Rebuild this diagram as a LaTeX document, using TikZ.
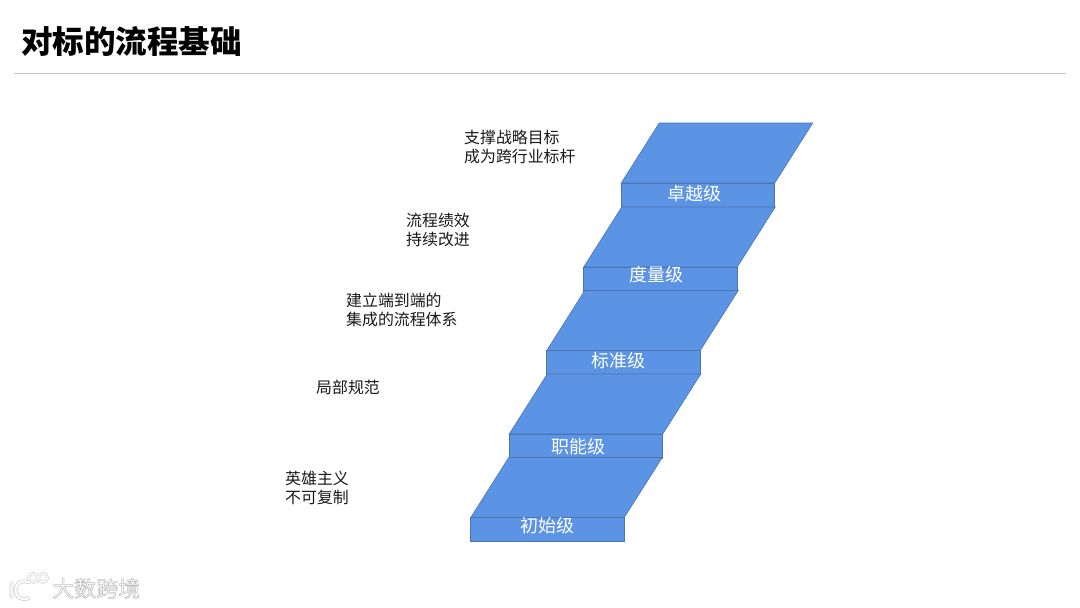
\documentclass[tikz,border=0pt]{standalone}
\usepackage{fontspec}
\setmainfont{Noto Sans CJK SC}
\usepackage{xcolor}
\usetikzlibrary{calc,positioning}
\definecolor{stepc}{HTML}{5B93E5}
\definecolor{edgec}{HTML}{4A76AE}
\definecolor{rulec}{HTML}{C4C4C4}
\definecolor{glowc}{HTML}{D6D6D6}
\newcommand{\glowtext}[1]{{\color{white}\special{pdf:code q 2 Tr 0.6 w 0.75 0.75 0.75 RG}#1\special{pdf:code Q}}}
\tikzset{
  stepbox/.style={draw=edgec,fill=stepc,line width=0.8pt,minimum width=153.5pt,minimum height=24pt,inner sep=0pt,outer sep=0pt},
  stepface/.style={draw=edgec,fill=stepc,line width=0.6pt,line join=miter},
  steptext/.style={text=white,font=\fontsize{18}{20}\selectfont,inner sep=0pt},
  note/.style={align=left,anchor=north west,font=\fontsize{15.9}{19}\selectfont,inner sep=0pt,text=black!90}
}
\begin{document}
\begin{tikzpicture}[x=1pt,y=-1pt]
\useasboundingbox (0,0) rectangle (1080,608);
\fill[white] (0,0) rectangle (1080,608);
\node[anchor=west,inner sep=0pt,font=\fontsize{31.5}{36}\selectfont\bfseries] (title) at (21,41) {对标的流程基础};
\coordinate (ruleL) at (14,73);
\coordinate (ruleR) at (1066,73);
\draw[rulec,line width=0.8pt] (ruleL)--(ruleR);
% steps, top one first
\foreach \nm/\bx/\by/\tx/\ty/\lab in {
  top/698/195/694/194/卓越级,
  mea/660.5/279/656/275/度量级,
  std/623.5/362.5/618/361/标准级,
  fun/586/446/578/447/职能级,
  ini/547.5/529.5/547/526/初始级}{
  \node[stepbox] (\nm) at (\bx,\by) {};
  \draw[stepface] (\nm.north west)--++(38,-60)--++(153.5,0)--(\nm.north east)--cycle;
  \node[steptext] (\nm txt) at (\tx,\ty) {\lab};
}
\node[note] (n1) at (464,130) {支撑战略目标\\成为跨行业标杆};
\node[note] (n2) at (406,213) {流程绩效\\持续改进};
\node[note] (n3) at (346,293) {建立端到端的\\集成的流程体系};
\node[note] (n4) at (316,380) {局部规范};
\node[note] (n5) at (285,471) {英雄主义\\不可复制};
% watermark
\node[inner sep=0pt,anchor=west,font=\fontsize{22}{24}\selectfont] (mark) at (52,588.5) {\glowtext{大数跨境}};
\draw[glowc,line width=3.8pt,line cap=round] (11.5,583)--(11.5,597) (29,598) arc (60:300:9);
\draw[glowc,line width=2.8pt] (33,578) circle (4.5) (43,578) circle (4.5);
\draw[white,line width=2pt,line cap=round] (11.5,583)--(11.5,597) (29,598) arc (60:300:9);
\draw[white,line width=1.3pt] (33,578) circle (4.5) (43,578) circle (4.5);
\end{tikzpicture}
\end{document}
